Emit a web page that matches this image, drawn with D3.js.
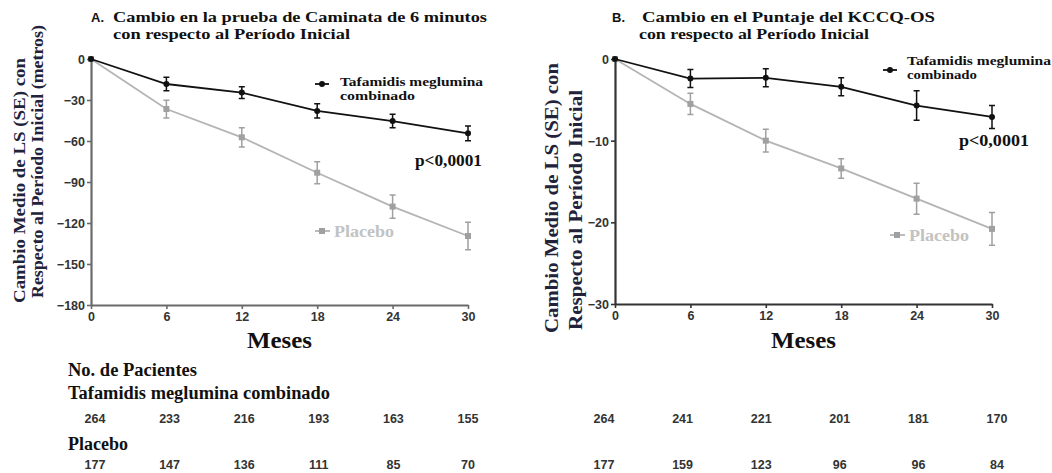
<!DOCTYPE html>
<html>
<head>
<meta charset="utf-8">
<script src="https://cdn.jsdelivr.net/npm/d3@7"></script>
<style>
  html, body { margin: 0; padding: 0; background: #fff; }
  svg { display: block; }
  .serif { font-family: "Liberation Serif", "Times New Roman", "DejaVu Serif", serif; font-weight: bold; }
  .sans { font-family: "Liberation Sans", Arial, "DejaVu Sans", sans-serif; font-weight: bold; }
</style>
</head>
<body>
<svg id="chart" width="1052" height="473"></svg>
<script>
// Months of follow-up
const months = [0, 6, 12, 18, 24, 30];

// A: 6-minute walk test, change from baseline (metres), LS mean and SE
const walkTafamidis   = [0, -18.3, -24.6, -38.0, -45.4, -54.4];
const walkTafamidisSE = [0, 5.0, 4.3, 5.2, 4.9, 5.4];
const walkPlacebo     = [0, -36.6, -57.3, -83.2, -108.0, -129.5];
const walkPlaceboSE   = [0, 6.5, 7.0, 8.0, 8.5, 10.0];

// B: KCCQ-OS score, change from baseline, LS mean and SE
const kccqTafamidis   = [0, -2.4, -2.3, -3.4, -5.7, -7.1];
const kccqTafamidisSE = [0, 1.1, 1.1, 1.1, 1.8, 1.4];
const kccqPlacebo     = [0, -5.5, -10.0, -13.4, -17.1, -20.8];
const kccqPlaceboSE   = [0, 1.3, 1.4, 1.2, 1.9, 2.0];

// Axis ticks
const walkTicks = [0, -30, -60, -90, -120, -150, -180];
const kccqTicks = [0, -10, -20, -30];

// Patients at risk
const walkNTafamidis = [264, 233, 216, 193, 163, 155];
const walkNPlacebo   = [177, 147, 136, 111, 85, 70];
const kccqNTafamidis = [264, 241, 221, 201, 181, 170];
const kccqNPlacebo   = [177, 159, 123, 96, 96, 84];

const svg = d3.select("#chart");
const DARK = "#111";
const GREY = "#b4b4b4";
const GREY_MARK = "#a0a0a0";

// Serif label with a fixed rendered width
function label(parent, txt, size, width, color) {
  const t = parent.append("text").attr("class", "serif")
    .style("font-size", size + "px").attr("fill", color || "#111").text(txt);
  if (width) t.attr("textLength", width).attr("lengthAdjust", "spacingAndGlyphs");
  return t;
}

function panel(cfg) {
  const g = svg.append("g");
  const x = d3.scaleLinear().domain([0, 30]).range([cfg.x0, cfg.x1]);
  const y = d3.scaleLinear().domain([cfg.yMin, 0]).range([cfg.yBottom, cfg.yTop]);

  // Axes
  const xAxis = g.append("g")
    .attr("transform", `translate(0,${cfg.yBottom})`)
    .call(d3.axisBottom(x).tickValues(months).tickSize(4).tickSizeOuter(0).tickPadding(3));
  const yAxis = g.append("g")
    .attr("transform", `translate(${cfg.x0},0)`)
    .call(d3.axisLeft(y).tickValues(cfg.ticks).tickSize(4).tickSizeOuter(0).tickPadding(2));
  [xAxis, yAxis].forEach(a => {
    a.attr("font-family", null).attr("font-size", null);
    a.select(".domain").attr("stroke", cfg.axisColor).attr("stroke-width", 2.2);
    a.selectAll(".tick line").attr("stroke", cfg.axisColor).attr("stroke-width", 1.6);
    a.selectAll(".tick text")
      .attr("class", "sans").attr("fill", "#333")
      .style("font-size", "12.5px");
  });
  yAxis.selectAll(".tick text").attr("dy", "0.35em");

  const line = d3.line().x((d, i) => x(months[i])).y(d => y(d));

  function series(vals, se, color, markColor, shape) {
    const s = g.append("g");
    s.append("path").datum(vals)
      .attr("fill", "none").attr("stroke", color).attr("stroke-width", 1.8)
      .attr("d", line);
    const pts = vals.map((v, i) => ({ m: months[i], v, e: se[i] })).filter(d => d.e > 0);
    s.selectAll(".eb").data(pts).enter().append("path")
      .attr("fill", "none").attr("stroke", markColor).attr("stroke-width", 1.5)
      .attr("d", d => {
        const cx = x(d.m), t = y(d.v + d.e), b = y(d.v - d.e);
        return `M${cx - 3},${t}H${cx + 3}M${cx},${t}V${b}M${cx - 3},${b}H${cx + 3}`;
      });
    const all = vals.map((v, i) => ({ m: months[i], v }));
    if (shape === "circle") {
      s.selectAll(".pt").data(all).enter().append("circle")
        .attr("cx", d => x(d.m)).attr("cy", d => y(d.v)).attr("r", 3)
        .attr("fill", markColor);
    } else {
      s.selectAll(".pt").data(all).enter().append("rect")
        .attr("x", d => x(d.m) - 3).attr("y", d => y(d.v) - 3)
        .attr("width", 6).attr("height", 6).attr("fill", markColor);
    }
  }
  series(cfg.pla, cfg.plaSE, GREY, GREY_MARK, "square");
  series(cfg.taf, cfg.tafSE, DARK, DARK, "circle");

  // Title, two lines
  g.append("text").attr("class", "sans").attr("x", cfg.titleX).attr("y", 22)
    .style("font-size", "13px").attr("fill", "#111").text(cfg.letter);
  label(g, cfg.title1, 15, cfg.title1W).attr("x", cfg.titleX2).attr("y", 22);
  label(g, cfg.title2, 15, cfg.title2W).attr("x", cfg.title2X).attr("y", 39);

  // Y axis title, two lines
  cfg.yTitle.forEach((s, i) => {
    label(g, s, cfg.yTitleSize, cfg.yTitleW[i], "#22223a")
      .attr("transform", `translate(${cfg.yTitleX[i]},${cfg.yTitleY[i]}) rotate(-90)`);
  });

  // X axis title
  label(g, "Meses", 24, 65).attr("x", (cfg.x0 + cfg.x1) / 2 - 32.5).attr("y", 348);

  // Legend: Tafamidis
  const lt = cfg.legTaf;
  g.append("line").attr("x1", lt.x).attr("x2", lt.x + 14).attr("y1", lt.my).attr("y2", lt.my)
    .attr("stroke", DARK).attr("stroke-width", 1.8);
  g.append("circle").attr("cx", lt.x + 7).attr("cy", lt.my).attr("r", 3).attr("fill", DARK);
  label(g, "Tafamidis meglumina", 12.5, lt.w1).attr("x", lt.tx).attr("y", lt.ty);
  label(g, "combinado", 12.5, lt.w2).attr("x", lt.tx).attr("y", lt.ty + 14);

  // Legend: Placebo
  const lp = cfg.legPla;
  g.append("line").attr("x1", lp.x).attr("x2", lp.x + 15).attr("y1", lp.y).attr("y2", lp.y)
    .attr("stroke", GREY).attr("stroke-width", 1.8);
  g.append("rect").attr("x", lp.x + 4).attr("y", lp.y - 3).attr("width", 6).attr("height", 6)
    .attr("fill", GREY_MARK);
  label(g, "Placebo", 17, 60, "#c2c2c2").attr("x", lp.x + 19).attr("y", lp.y + 6);

  // p value
  label(g, "p<0,0001", 17, cfg.pW).attr("x", cfg.pX).attr("y", cfg.pY);

  // Patients at risk
  const nx = d3.scalePoint().domain(months).range([cfg.n0, cfg.n1]);
  [[cfg.nTaf, 423], [cfg.nPla, 469]].forEach(([arr, yy]) => {
    g.selectAll(null).data(arr).enter().append("text").attr("class", "sans")
      .attr("x", (d, i) => nx(months[i])).attr("y", yy)
      .attr("text-anchor", "middle").style("font-size", "12.5px").attr("fill", "#333")
      .text(d => d);
  });
}

panel({
  x0: 91, x1: 468, yTop: 59, yBottom: 305, yMin: -180, ticks: walkTicks,
  axisColor: "#6a6a6a",
  taf: walkTafamidis, tafSE: walkTafamidisSE, pla: walkPlacebo, plaSE: walkPlaceboSE,
  letter: "A.", title1: "Cambio en la prueba de Caminata de 6 minutos",
  title2: "con respecto al Período Inicial", titleX: 91, titleX2: 113, title2X: 113,
  title1W: 374, title2W: 237,
  yTitle: ["Cambio Medio de LS (SE) con", "Respecto al Período Inicial (metros)"],
  yTitleX: [25, 43], yTitleY: [303, 298], yTitleSize: 17, yTitleW: [245, 273],
  legTaf: { x: 315, my: 84, tx: 340, ty: 86, w1: 143, w2: 75 },
  legPla: { x: 315, y: 231 },
  pX: 415, pY: 166, pW: 67,
  n0: 95, n1: 468, nTaf: walkNTafamidis, nPla: walkNPlacebo
});

panel({
  x0: 615, x1: 992, yTop: 59, yBottom: 304, yMin: -30, ticks: kccqTicks,
  axisColor: "#333",
  taf: kccqTafamidis, tafSE: kccqTafamidisSE, pla: kccqPlacebo, plaSE: kccqPlaceboSE,
  letter: "B.", title1: "Cambio en el Puntaje del KCCQ-OS",
  title2: "con respecto al Período Inicial", titleX: 612, titleX2: 642, title2X: 639,
  title1W: 293, title2W: 230,
  yTitle: ["Cambio Medio de LS (SE) con", "Respecto al Período Inicial"],
  yTitleX: [558, 582], yTitleY: [333, 330], yTitleSize: 18, yTitleW: [270, 240],
  legTaf: { x: 883, my: 70, tx: 907, ty: 65, w1: 144, w2: 70 },
  legPla: { x: 890, y: 235 },
  pX: 959, pY: 146, pW: 70,
  n0: 604, n1: 997, nTaf: kccqNTafamidis, nPla: kccqNPlacebo
});

// Patients-at-risk headings
const heads = [["No. de Pacientes", 376, 129], ["Tafamidis meglumina combinado", 399, 262], ["Placebo", 450, 60]];
heads.forEach(([s, yy, w]) => {
  label(svg, s, 18, w).attr("x", 68).attr("y", yy);
});
</script>
</body>
</html>
